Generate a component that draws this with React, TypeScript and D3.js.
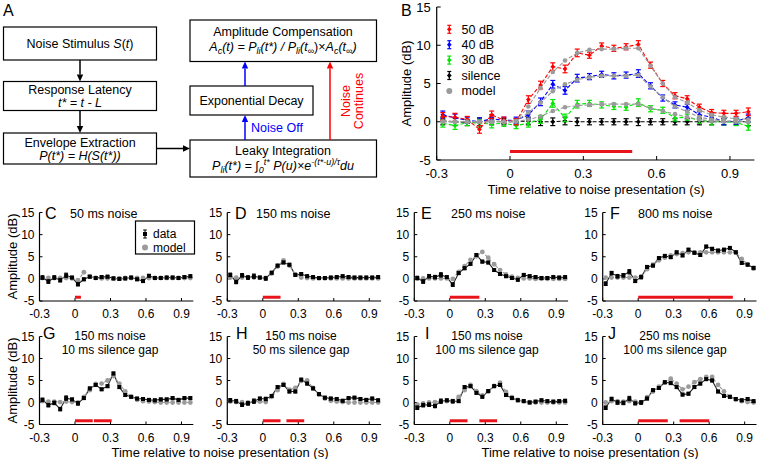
import React from 'react';
import * as d3 from 'd3';

const FONT = 'Arial, "Liberation Sans", Helvetica, sans-serif';

const TIME = [-0.275, -0.225, -0.175, -0.125, -0.075, -0.025, 0.025, 0.075, 0.125, 0.175, 0.225, 0.275, 0.325,
  0.375, 0.425, 0.475, 0.525, 0.575, 0.625, 0.675, 0.725, 0.775, 0.825, 0.875, 0.925, 0.975];
const X_TICKS = [-0.3, 0, 0.3, 0.6, 0.9];
const X_TICK_LABELS = ['-0.3', '0', '0.3', '0.6', '0.9'];
const Y_TICKS = [-5, 0, 5, 10, 15];
const Y_TICK_LABELS = ['-5', '0', '5', '10', '15'];

// Panel B
const B_LEGEND = ['50 dB', '40 dB', '30 dB', 'silence', 'model'];
const B_50 = [0.7, 0.6, 0.3, -1.0, 0.9, 0.2, 0.0, 2.9, 4.8, 7.2, 6.9, 9.0, 8.7, 9.9, 9.6, 9.8, 10.1, 7.4, 5.0, 3.4, 3.0, 1.9, 1.2, 1.1, 1.1, 1.3];
const B_40 = [0.9, 0.5, 0.2, 0.0, 0.4, 0.2, 0.2, 0.9, 2.6, 4.9, 4.1, 5.7, 5.9, 6.2, 6.0, 6.1, 6.3, 4.7, 3.1, 2.2, 1.9, 0.9, 0.6, 0.0, 0.1, 0.5];
const B_30 = [-0.2, -0.5, -0.1, -0.2, -0.3, -0.2, -0.5, -0.2, 0.3, 2.4, 0.5, 2.3, 2.4, 2.2, 2.0, 1.9, 2.5, 1.7, 1.5, 0.5, 0.6, 0.2, 0.0, 0.0, -0.1, -0.6];
const B_SIL = [0.1, 0.0, -0.1, 0.0, 0.1, 0.0, 0.0, 0.1, 0.0, 0.0, 0.1, 0.0, 0.0, 0.0, 0.0, 0.0, 0.0, 0.0, 0.0, 0.0, 0.0, 0.0, 0.0, 0.0, 0.0, 0.0];
const B_M50 = [0, 0, 0, 0, 0, 0, 0.1, 2.0, 4.4, 6.5, 8.0, 9.0, 9.4, 9.5, 9.5, 9.6, 9.6, 7.3, 5.0, 3.2, 2.5, 1.5, 0.9, 0.6, 0.4, 0.3];
const B_M40 = [0, 0, 0, 0, 0, 0, 0.1, 1.2, 2.5, 4.0, 4.9, 5.5, 5.8, 6.0, 6.0, 6.0, 6.1, 4.6, 3.2, 2.0, 1.3, 0.6, 0.3, 0.1, 0.1, 0.0];
const B_M30 = [0, 0, 0, 0, 0, 0, 0.0, 0.3, 0.7, 1.4, 1.9, 2.1, 2.2, 2.3, 2.3, 2.3, 2.3, 1.8, 1.4, 1.0, 0.6, 0.3, 0.1, 0.0, 0.0, 0.0];
const B_ERR = [0.5, 0.5, 0.4, 0.5, 0.5, 0.4, 0.4, 0.5, 0.5, 0.5, 0.5, 0.5, 0.4, 0.4, 0.4, 0.4, 0.5, 0.4, 0.4, 0.4, 0.4, 0.4, 0.4, 0.4, 0.4, 0.5];
const B_BAR = [[0, 0.5]];

// Panels C-J
const C_DATA = [0.3, -0.6, 0.3, -0.3, 0.8, 0.3, -1.2, -0.1, 0.5, 0.2, 0.4, 0.5, 0.1, 0.0, 0.1, 0.3, -0.1, -0.5, 0.7, 0.2, 0.2, 0.3, 0.3, 0.2, 0.4, 0.6];
const C_MODEL = [0.2, 0.2, 0.2, 0.2, 0.2, 0.1, -0.3, 1.5, 0.5, 0.2, 0.1, 0.1, 0.1, 0.1, 0.2, 0.2, 0.2, 0.2, 0.2, 0.2, 0.2, 0.2, 0.2, 0.2, 0.2, 0.2];
const D_DATA = [0.9, -0.7, 0.8, 0.3, 0.6, 0.3, 0.1, 1.4, 3.0, 3.7, 3.2, 0.9, 1.1, 0.6, 0.4, 0.2, 0.2, 0.3, 0.4, 0.6, 0.4, 0.3, 0.3, 0.3, 0.3, 0.4];
const D_MODEL = [0.3, 0.3, 0.3, 0.3, 0.3, 0.3, 0.2, 1.2, 2.8, 4.2, 3.0, 1.0, 0.3, 0.2, 0.1, 0.1, 0.1, 0.1, 0.1, 0.1, 0.1, 0.1, 0.1, 0.1, 0.1, 0.1];
const E_DATA = [0.2, -0.6, 0.6, 0.4, 0.9, 0.4, -1.3, 1.3, 2.4, 3.4, 5.4, 3.9, 3.7, 2.0, 1.1, 0.6, 0.2, -0.2, 0.9, 0.6, 0.4, 0.2, 0.2, 0.4, 0.3, 0.4];
const E_MODEL = [0.1, 0.1, 0.1, 0.1, 0.1, 0.1, 0.0, 1.6, 2.9, 4.3, 5.1, 6.1, 4.8, 3.3, 2.0, 1.0, 0.5, 0.2, 0.1, 0.1, 0.0, 0.0, 0.0, 0.0, 0.0, 0.0];
const F_DATA = [-1.1, 1.3, 0.6, 0.8, 1.6, -0.5, 0.4, 2.7, 3.0, 4.7, 5.2, 4.9, 6.0, 5.3, 6.6, 5.9, 5.4, 7.3, 6.8, 6.4, 6.6, 7.0, 6.0, 3.6, 3.2, 2.5];
const F_MODEL = [0.3, 0.3, 0.3, 0.3, 0.3, 0.3, 0.5, 2.2, 3.2, 4.2, 4.8, 5.3, 5.6, 5.8, 6.0, 6.0, 6.0, 6.0, 6.0, 6.0, 6.0, 6.0, 6.0, 4.5, 3.3, 2.3];
const G_DATA = [0.6, -0.6, -0.1, -1.5, 1.0, 0.7, -0.2, 1.0, 3.2, 4.0, 3.0, 3.7, 6.6, 3.5, 1.7, 1.3, 0.9, 0.8, 0.6, 0.5, 0.7, 0.7, 1.0, 0.6, 1.0, 1.0];
const G_MODEL = [0.3, 0.2, 0.2, 0.1, 0.2, 0.1, 0.0, 1.3, 2.8, 4.2, 4.3, 5.0, 6.0, 4.3, 2.5, 1.3, 0.6, 0.3, 0.2, 0.1, 0.0, 0.0, 0.0, 0.0, 0.0, 0.0];
const H_DATA = [0.5, 0.3, -0.5, -0.2, 0.3, 0.9, 0.8, 1.5, 3.5, 4.0, 2.5, 2.5, 5.2, 4.3, 3.2, 1.9, 1.1, 0.9, 0.8, 0.4, 1.0, 1.1, 0.8, 0.6, 0.9, 0.5];
const H_MODEL = [0.2, 0.1, 0.1, 0.0, 0.2, 0.2, 0.1, 1.3, 2.8, 4.2, 2.9, 3.3, 4.9, 5.0, 3.3, 1.8, 0.9, 0.4, 0.2, 0.1, 0.0, 0.0, 0.0, 0.0, 0.0, 0.0];
const I_DATA = [-1.2, -0.6, -0.5, -0.8, 0.3, 0.5, 0.3, 0.3, 3.5, 3.7, 2.2, 1.3, 2.6, 3.7, 4.0, 1.7, 1.0, 0.5, 0.3, 0.0, 0.2, 0.5, 0.3, 0.2, 0.3, 0.4];
const I_MODEL = [-0.5, -0.2, 0.0, 0.1, 0.2, 0.3, 0.2, 1.3, 2.8, 4.0, 2.6, 1.6, 2.5, 3.8, 4.5, 2.4, 1.2, 0.6, 0.3, 0.1, 0.0, 0.0, 0.0, 0.0, 0.0, 0.0];
const J_DATA = [-1.2, 0.8, 0.0, -0.1, 0.9, -0.2, 0.0, 0.9, 2.8, 3.3, 4.6, 4.4, 3.5, 1.8, 2.0, 3.5, 4.3, 5.3, 5.0, 2.5, 1.5, 1.3, 0.8, 0.5, 0.8, 0.3];
const J_MODEL = [0.0, 0.3, 0.3, 0.2, 0.3, 0.2, 0.0, 1.2, 2.5, 3.6, 4.5, 5.4, 4.3, 3.0, 3.6, 4.6, 5.3, 5.8, 5.8, 4.0, 2.5, 1.3, 0.6, 0.3, 0.1, 0.0];
const SMALL_ERR = [0.4, 0.4, 0.4, 0.4, 0.5, 0.3, 0.4, 0.3, 0.3, 0.3, 0.3, 0.3, 0.3, 0.3, 0.3, 0.3, 0.3, 0.3, 0.3, 0.3, 0.3, 0.3, 0.3, 0.3, 0.3, 0.3];

const PANEL_LETTERS = ['C', 'D', 'E', 'F', 'G', 'H', 'I', 'J'];
const PANEL_TITLE1 = ['50 ms noise', '150 ms noise', '250 ms noise', '800 ms noise', '150 ms noise', '150 ms noise', '150 ms noise', '250 ms noise'];
const PANEL_TITLE2 = ['', '', '', '', '10 ms silence gap', '50 ms silence gap', '100 ms silence gap', '100 ms silence gap'];
const PANEL_DATA = [C_DATA, D_DATA, E_DATA, F_DATA, G_DATA, H_DATA, I_DATA, J_DATA];
const PANEL_MODEL = [C_MODEL, D_MODEL, E_MODEL, F_MODEL, G_MODEL, H_MODEL, I_MODEL, J_MODEL];
const PANEL_BARS = [
  [[0, 0.05]], [[0, 0.15]], [[0, 0.25]], [[0, 0.8]],
  [[0, 0.15], [0.16, 0.31]], [[0, 0.15], [0.2, 0.35]], [[0, 0.15], [0.25, 0.4]], [[0, 0.25], [0.35, 0.6]],
];
const SMALL_LEGEND = ['data', 'model'];

const RED = '#ff0000';
const BLUE = '#0000ff';
const GREEN = '#00e600';
const GRAY = '#9b9b9b';
const BAR_RED = '#e8131b';

const SMALL_LEFTS = [39.5, 227.3, 414.3, 602.7];
const SMALL_W = 153.8;
const ROWS = [{ top: 212.5, bottom: 301 }, { top: 336.5, bottom: 424.5 }];
const TITLE_X = [70, 256, 451, 638, 110, 301, 487, 675];
const LETTER_X = [45, 235, 421, 610, 43, 236, 425, 608];

type Sc = d3.ScaleLinear<number, number>;

function Axes({ x, y, fs, tickLen, yLabelGap, xLabelGap }: { x: Sc; y: Sc; fs: number; tickLen: number; yLabelGap: number; xLabelGap: number }) {
  const [x0, x1] = x.range();
  const [y0, y1] = y.range();
  return (
    <g fontFamily={FONT} fontSize={fs} fill="#000">
      <line x1={x0} x2={x0} y1={y0} y2={y1} stroke="#000" strokeWidth={1.2} />
      <line x1={x0} x2={x1} y1={y0} y2={y0} stroke="#000" strokeWidth={1.2} />
      {Y_TICKS.map((t, i) => (
        <g key={'y' + i}>
          <line x1={x0} x2={x0 + tickLen} y1={y(t)} y2={y(t)} stroke="#000" strokeWidth={1} />
          <text x={x0 - yLabelGap} y={y(t)} dy="0.35em" textAnchor="end">{Y_TICK_LABELS[i]}</text>
        </g>
      ))}
      {X_TICKS.map((t, i) => (
        <g key={'x' + i}>
          <line x1={x(t)} x2={x(t)} y1={y0} y2={y0 - tickLen} stroke="#000" strokeWidth={1} />
          <text x={x(t)} y={y0 + xLabelGap} dy="0.35em" textAnchor="middle">{X_TICK_LABELS[i]}</text>
        </g>
      ))}
    </g>
  );
}

function ErrBar({ cx, yLo, yHi, cap, color, w }: { cx: number; yLo: number; yHi: number; cap: number; color: string; w: number }) {
  return (
    <g stroke={color} strokeWidth={w}>
      <line x1={cx} x2={cx} y1={yLo} y2={yHi} />
      <line x1={cx - cap} x2={cx + cap} y1={yLo} y2={yLo} />
      <line x1={cx - cap} x2={cx + cap} y1={yHi} y2={yHi} />
    </g>
  );
}

function Diamond({ cx, cy, r, color }: { cx: number; cy: number; r: number; color: string }) {
  return <path d={`M${cx},${cy - r}L${cx + r},${cy}L${cx},${cy + r}L${cx - r},${cy}Z`} fill={color} />;
}

function PanelB() {
  const x = d3.scaleLinear().domain([-0.3, 1.0]).range([436.7, 754.4]);
  const y = d3.scaleLinear().domain([-5, 15]).range([160, 7]);
  const line = d3.line<number>().x((_, i) => x(TIME[i])).y((d) => y(d));
  const series = [
    { d: B_SIL, c: '#000' },
    { d: B_30, c: GREEN },
    { d: B_40, c: BLUE },
    { d: B_50, c: RED },
  ];
  const models = [B_M30, B_M40, B_M50];
  const legendColors = [RED, BLUE, GREEN, '#000'];
  return (
    <g>
      <text x={401} y={16} fontFamily={FONT} fontSize={16}>B</text>
      <Axes x={x} y={y} fs={13} tickLen={4} yLabelGap={6} xLabelGap={13} />
      <text transform={`translate(411,83.5) rotate(-90)`} textAnchor="middle" fontFamily={FONT} fontSize={13}>Amplitude (dB)</text>
      <text x={596} y={193.5} textAnchor="middle" fontFamily={FONT} fontSize={13}>Time relative to noise presentation (s)</text>
      {B_BAR.map((b, i) => (
        <line key={i} x1={x(b[0])} x2={x(b[1])} y1={y(-3.9)} y2={y(-3.9)} stroke={BAR_RED} strokeWidth={3} />
      ))}
      {series.map((s, si) => (
        <g key={si}>
          <path d={line(s.d) || ''} fill="none" stroke={s.c} strokeWidth={1.1} strokeDasharray="4,2" />
          {s.d.map((v, i) => (
            <g key={i}>
              <ErrBar cx={x(TIME[i])} yLo={y(v - B_ERR[i])} yHi={y(v + B_ERR[i])} cap={2.5} color={s.c} w={1.2} />
              <Diamond cx={x(TIME[i])} cy={y(v)} r={2.4} color={s.c} />
            </g>
          ))}
        </g>
      ))}
      {models.map((m, mi) => (
        <g key={mi}>
          <path d={line(m) || ''} fill="none" stroke={GRAY} strokeWidth={1.1} strokeDasharray="4,2" />
          {m.map((v, i) => (
            <circle key={i} cx={x(TIME[i])} cy={y(v)} r={2.3} fill={GRAY} />
          ))}
        </g>
      ))}
      {B_LEGEND.map((lab, i) => {
        const ly = 29.3 + i * 15.4;
        return (
          <g key={lab}>
            {i < 4 ? (
              <g>
                <ErrBar cx={449.3} yLo={ly + 4} yHi={ly - 4} cap={2} color={legendColors[i]} w={1.2} />
                <Diamond cx={449.3} cy={ly} r={2.4} color={legendColors[i]} />
              </g>
            ) : (
              <circle cx={449.3} cy={ly} r={3} fill={GRAY} />
            )}
            <text x={461.5} y={ly} dy="0.35em" fontFamily={FONT} fontSize={12.5}>{lab}</text>
          </g>
        );
      })}
    </g>
  );
}

function SmallPanel({ idx }: { idx: number }) {
  const col = idx % 4;
  const row = Math.floor(idx / 4);
  const left = SMALL_LEFTS[col];
  const { top, bottom } = ROWS[row];
  const x = d3.scaleLinear().domain([-0.3, 1.0]).range([left, left + SMALL_W]);
  const y = d3.scaleLinear().domain([-5, 15]).range([bottom, top]);
  const line = d3.line<number>().x((_, i) => x(TIME[i])).y((d) => y(d));
  const data = PANEL_DATA[idx];
  const model = PANEL_MODEL[idx];
  const two = PANEL_TITLE2[idx] !== '';
  return (
    <g>
      <Axes x={x} y={y} fs={12} tickLen={3} yLabelGap={5} xLabelGap={13} />
      <text x={LETTER_X[idx]} y={two ? top + 2 : top + 6} fontFamily={FONT} fontSize={16}>{PANEL_LETTERS[idx]}</text>
      {two ? (
        <g fontFamily={FONT} fontSize={12} textAnchor="middle">
          <text x={TITLE_X[idx]} y={top + 3.5}>{PANEL_TITLE1[idx]}</text>
          <text x={TITLE_X[idx]} y={top + 17}>{PANEL_TITLE2[idx]}</text>
        </g>
      ) : (
        <text x={TITLE_X[idx]} y={top + 5} fontFamily={FONT} fontSize={12.5}>{PANEL_TITLE1[idx]}</text>
      )}
      {PANEL_BARS[idx].map((b, i) => (
        <line key={i} x1={x(b[0])} x2={x(b[1])} y1={y(-4.15)} y2={y(-4.15)} stroke={BAR_RED} strokeWidth={3} />
      ))}
      <path d={line(data) || ''} fill="none" stroke="#222" strokeWidth={1.1} />
      <path d={line(model) || ''} fill="none" stroke={GRAY} strokeWidth={1.1} strokeDasharray="3,2" />
      {model.map((v, i) => (
        <circle key={'m' + i} cx={x(TIME[i])} cy={y(v)} r={2.4} fill={GRAY} />
      ))}
      {data.map((v, i) => (
        <g key={'d' + i}>
          <ErrBar cx={x(TIME[i])} yLo={y(v - SMALL_ERR[i])} yHi={y(v + SMALL_ERR[i])} cap={1.8} color="#000" w={1} />
          <rect x={x(TIME[i]) - 2} y={y(v) - 2} width={4} height={4} fill="#000" />
        </g>
      ))}
    </g>
  );
}

function Arrow({ x1, y1, x2, y2, color }: { x1: number; y1: number; x2: number; y2: number; color: string }) {
  const ang = Math.atan2(y2 - y1, x2 - x1);
  const L = 7;
  const W = 3.2;
  const bx = x2 - L * Math.cos(ang);
  const by = y2 - L * Math.sin(ang);
  const px = -Math.sin(ang) * W;
  const py = Math.cos(ang) * W;
  return (
    <g>
      <line x1={x1} y1={y1} x2={bx} y2={by} stroke={color} strokeWidth={1.5} />
      <path d={`M${x2},${y2}L${bx + px},${by + py}L${bx - px},${by - py}Z`} fill={color} />
    </g>
  );
}

function PanelA() {
  const box = { stroke: '#000', strokeWidth: 1.2, fill: '#fff' };
  const sub = { fontSize: 9 };
  return (
    <g fontFamily={FONT} fontSize={12.5}>
      <text x={3} y={16} fontSize={16}>A</text>
      <rect x={3.5} y={27} width={153} height={33} {...box} />
      <text x={80} y={47.5} textAnchor="middle">Noise Stimulus <tspan fontStyle="italic">S</tspan>(<tspan fontStyle="italic">t</tspan>)</text>
      <Arrow x1={80} y1={60} x2={80} y2={81.5} color="#000" />
      <rect x={3.5} y={81.5} width={153} height={29} {...box} />
      <text x={80} y={94} textAnchor="middle">Response Latency</text>
      <text x={80} y={107} textAnchor="middle" fontStyle="italic">t* = t - L</text>
      <Arrow x1={80} y1={110.5} x2={80} y2={133} color="#000" />
      <rect x={3.5} y={133} width={153} height={31} {...box} />
      <text x={80} y={147} textAnchor="middle">Envelope Extraction</text>
      <text x={80} y={160} textAnchor="middle" fontStyle="italic">P(t*) = H(S(t*))</text>
      <Arrow x1={156.5} y1={148.5} x2={190} y2={148.5} color="#000" />

      <rect x={190} y={20} width={186.5} height={41.5} {...box} />
      <text x={283} y={35.5} textAnchor="middle">Amplitude Compensation</text>
      <text x={283} y={51} textAnchor="middle" fontStyle="italic">
        A<tspan {...sub} dy={3}>c</tspan><tspan dy={-3}>(t) = P</tspan><tspan {...sub} dy={3}>li</tspan><tspan dy={-3}>(t*) / P</tspan>
        <tspan {...sub} dy={3}>li</tspan><tspan dy={-3}>(t</tspan><tspan {...sub} dy={3}>∞</tspan><tspan dy={-3} fontStyle="normal">)×</tspan>
        <tspan>A</tspan><tspan {...sub} dy={3}>c</tspan><tspan dy={-3}>(t</tspan><tspan {...sub} dy={3}>∞</tspan><tspan dy={-3}>)</tspan>
      </text>
      <rect x={190} y={86} width={123} height={29} {...box} />
      <text x={251.5} y={104.5} textAnchor="middle">Exponential Decay</text>
      <rect x={190} y={140} width={186.5} height={37} {...box} />
      <text x={283} y={154.5} textAnchor="middle">Leaky Integration</text>
      <text x={283} y={170} textAnchor="middle" fontStyle="italic">
        P<tspan {...sub} dy={3}>li</tspan><tspan dy={-3}>(t*) = ∫</tspan><tspan {...sub} dy={3}>0</tspan>
        <tspan {...sub} dy={-8}>t*</tspan><tspan dy={5}> P(u)×e</tspan><tspan {...sub} dy={-5}>-(t*-u)/τ</tspan><tspan dy={5}>du</tspan>
      </text>

      <Arrow x1={245} y1={86} x2={245} y2={61.5} color={BLUE} />
      <Arrow x1={245} y1={140} x2={245} y2={115} color={BLUE} />
      <text x={251} y={132} fill={BLUE}>Noise Off</text>
      <Arrow x1={330} y1={140} x2={330} y2={61.5} color={RED} />
      <text transform="translate(349.5,101) rotate(-90)" textAnchor="middle" fill={RED}>Noise</text>
      <text transform="translate(362.5,101) rotate(-90)" textAnchor="middle" fill={RED}>Continues</text>
    </g>
  );
}

export default function App() {
  return (
    <svg width={757} height={459} viewBox="0 0 757 459" style={{ position: 'absolute', left: 0, top: 0, background: '#fff' }}>
      <rect width={757} height={459} fill="#fff" />
      <PanelA />
      <PanelB />
      {PANEL_LETTERS.map((_, i) => <SmallPanel key={i} idx={i} />)}
      <text transform="translate(17,256.5) rotate(-90)" textAnchor="middle" fontFamily={FONT} fontSize={13}>Amplitude (dB)</text>
      <text transform="translate(17,380.5) rotate(-90)" textAnchor="middle" fontFamily={FONT} fontSize={13}>Amplitude (dB)</text>
      <text x={220} y={457} textAnchor="middle" fontFamily={FONT} fontSize={13}>Time relative to noise presentation (s)</text>
      <text x={590} y={457} textAnchor="middle" fontFamily={FONT} fontSize={13}>Time relative to noise presentation (s)</text>
      <g fontFamily={FONT}>
        <rect x={135.5} y={221} width={59} height={33} fill="#fff" stroke="#000" strokeWidth={1.2} />
        <ErrBar cx={145} yLo={238} yHi={230} cap={1.8} color="#000" w={1} />
        <rect x={143} y={232} width={4} height={4} fill="#000" />
        <text x={153} y={234} dy="0.35em" fontSize={12}>{SMALL_LEGEND[0]}</text>
        <circle cx={145} cy={247.5} r={3} fill={GRAY} />
        <text x={153} y={247.5} dy="0.35em" fontSize={12}>{SMALL_LEGEND[1]}</text>
      </g>
    </svg>
  );
}
